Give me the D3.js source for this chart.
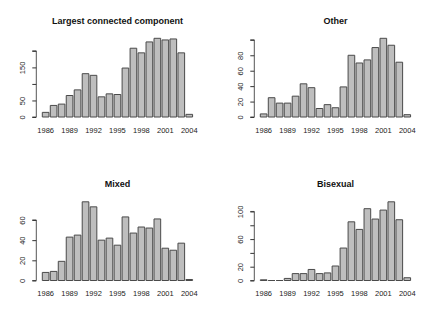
<!DOCTYPE html>
<html>
<head>
<meta charset="utf-8">
<script src="https://cdn.jsdelivr.net/npm/d3@7"></script>
<style>
  body { margin: 0; background: #fff; }
  svg { display: block; font-family: "Liberation Sans", Arial, sans-serif; }
</style>
</head>
<body>
<div id="chart"></div>
<script>
    // data
    var years = [1986, 1987, 1988, 1989, 1990, 1991, 1992, 1993, 1994, 1995,
                 1996, 1997, 1998, 1999, 2000, 2001, 2002, 2003, 2004];
    var yearLabels = [1986, 1989, 1992, 1995, 1998, 2001, 2004];

    var largest = [14, 35, 39, 65, 82, 131, 126, 61, 70, 68, 148, 208, 194, 227, 238, 233, 236, 194, 8];
    var other = [4, 25, 18, 18, 27, 43, 38, 11, 16, 12, 39, 80, 70, 74, 90, 102, 93, 71, 3];
    var mixed = [8, 9, 19, 43, 45, 78, 73, 40, 42, 35, 63, 47, 53, 52, 61, 32, 30, 37, 1];
    var bisexual = [1, 0, 0, 3, 10, 10, 16, 10, 11, 21, 47, 85, 74, 104, 89, 102, 114, 88, 4];

    var largestTicks = [0, 50, 100, 150, 200];
    var largestTickLabels = ["0", "50", "", "150", ""];
    var otherTicks = [0, 20, 40, 60, 80, 100];
    var otherTickLabels = ["0", "20", "40", "60", "80", ""];
    var mixedTicks = [0, 20, 40, 60];
    var mixedTickLabels = ["0", "20", "40", "60"];
    var bisexualTicks = [0, 20, 40, 60, 80, 100];
    var bisexualTickLabels = ["0", "20", "", "60", "", "100"];

    var panels = [
        {title: "Largest connected component", values: largest, ticks: largestTicks, labels: largestTickLabels},
        {title: "Other", values: other, ticks: otherTicks, labels: otherTickLabels},
        {title: "Mixed", values: mixed, ticks: mixedTicks, labels: mixedTickLabels},
        {title: "Bisexual", values: bisexual, ticks: bisexualTicks, labels: bisexualTickLabels}
    ];

    var width = 436, height = 327;
    var panelW = width / 2, panelH = height / 2;
    // plot region inside each panel
    var plot = {left: 36.3, right: 198.6, top: 35.15, bottom: 120.15};

    var svg = d3.select("#chart").append("svg")
        .attr("width", width)
        .attr("height", height);

    panels.forEach(function(p, i) {
        var g = svg.append("g")
            .attr("transform", "translate(" + (i % 2) * panelW + "," + Math.floor(i / 2) * panelH + ")");

        var x = d3.scaleBand()
            .domain(years)
            .range([plot.left, plot.right])
            .paddingInner(1 / 6)
            .paddingOuter(0.753);

        var max = d3.max(p.values);
        var y = d3.scaleLinear()
            .domain([-0.04 * max, 1.04 * max])
            .range([plot.bottom, plot.top]);

        // bars (paths so zero-height bars still show as a line)
        g.selectAll(".bar")
            .data(d3.zip(years, p.values))
            .enter().append("path")
            .attr("class", "bar")
            .attr("d", function(d) {
                var x0 = x(d[0]), w = x.bandwidth();
                var y0 = y(0), y1 = y(d[1]);
                return "M" + x0 + "," + y0 + "H" + (x0 + w) + "V" + y1 + "H" + x0 + "Z";
            })
            .style("fill", "#bebebe")
            .style("stroke", "#4a4a4a")
            .style("stroke-width", 1);

        // y axis
        var yAxis = d3.axisLeft(y)
            .tickValues(p.ticks)
            .tickSize(4)
            .tickFormat(function(d, j) { return p.labels[j]; });

        var ya = g.append("g")
            .attr("transform", "translate(" + plot.left + ",0)")
            .call(yAxis);
        ya.select(".domain")
            .attr("d", "M-4," + y(p.ticks[0]) + "H0V" + y(p.ticks[p.ticks.length - 1]) + "H-4")
            .style("stroke", "#555");
        ya.selectAll(".tick line").style("stroke", "#333");
        ya.selectAll(".tick text")
            .attr("x", null)
            .attr("dy", null)
            .attr("transform", "translate(-11,0) rotate(-90)")
            .style("text-anchor", "middle")
            .style("font-size", "7.5px")
            .style("font-family", "'Liberation Sans', Arial, sans-serif")
            .style("fill", "#222");

        // x labels
        var xAxis = d3.axisBottom(x)
            .tickValues(yearLabels)
            .tickSize(0);
        var xa = g.append("g")
            .attr("transform", "translate(0,124)")
            .call(xAxis);
        xa.select(".domain").remove();
        xa.selectAll(".tick text")
            .attr("y", 8.7)
            .attr("dy", null)
            .style("font-size", "7.5px")
            .style("font-family", "'Liberation Sans', Arial, sans-serif")
            .style("fill", "#222");

        // title
        g.append("text")
            .attr("x", (plot.left + plot.right) / 2)
            .attr("y", 23.5)
            .style("text-anchor", "middle")
            .style("font-weight", "bold")
            .style("font-size", "9px")
            .style("fill", "#111")
            .text(p.title);
    });
</script>
</body>
</html>
